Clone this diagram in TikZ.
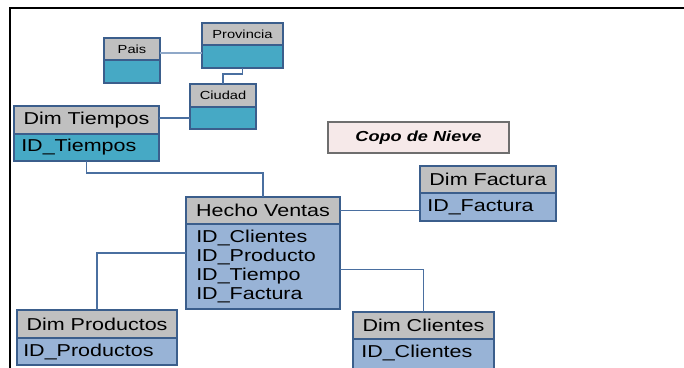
\documentclass[tikz,border=0pt]{standalone}
\usepackage{fontspec}
\setmainfont{Liberation Sans}[FakeStretch=1.25]
\usetikzlibrary{fit}
\definecolor{hdrgray}{HTML}{C0C0C0}
\definecolor{tealbody}{HTML}{46A9C5}
\definecolor{bluebody}{HTML}{98B3D6}
\definecolor{edgecol}{HTML}{3B5E8C}
\definecolor{conncol}{HTML}{4A6FA0}
\definecolor{connlight}{HTML}{8FA8C8}
\definecolor{pinkbg}{HTML}{F6E9E9}
\definecolor{pinkedge}{HTML}{6E6E6E}
\begin{document}
\begin{tikzpicture}[x=0.75pt,y=-0.75pt,
  cell/.style={draw=edgecol,line width=1pt,inner sep=0pt,outer sep=0pt},
  hd/.style={cell,fill=hdrgray},
  bt/.style={cell,fill=tealbody},
  bb/.style={cell,fill=bluebody},
  bigtxt/.style={inner sep=0pt,font=\fontsize{12.9}{15}\selectfont},
  smalltxt/.style={inner sep=0pt,font=\fontsize{8.8}{10}\selectfont},
  txt/.style={anchor=west,inner sep=0pt,font=\fontsize{12.9}{14.2}\selectfont,align=left},
  link/.style={draw=conncol,line width=0.9pt},
  linklight/.style={draw=connlight,line width=1pt},
  frame/.style={draw=black,line width=1.6pt}]
\useasboundingbox (0,0) rectangle (684,367);

% frame (top and left edges)
\coordinate (fTR) at (690,8);
\coordinate (fTL) at (10,8);
\coordinate (fBL) at (10,372);
\draw[frame] (fTR) -- (fTL) -- (fBL);

% Pais
\node[hd, fit={(104,38) (160,60)}] (paisH) {};
\node[bt, fit={(104,60) (160,83)}] (paisB) {};
\node[smalltxt] (paisT) at (paisH.center) {Pais};
% Provincia
\node[hd, fit={(202,23) (283,45)}] (provH) {};
\node[bt, fit={(202,45) (283,68)}] (provB) {};
\node[smalltxt] (provT) at (provH.center) {Provincia};
% Ciudad
\node[hd, fit={(190,84) (256,107)}] (ciuH) {};
\node[bt, fit={(190,107) (256,129)}] (ciuB) {};
\node[smalltxt] (ciuT) at (ciuH.center) {Ciudad};
% Dim Tiempos
\node[hd, fit={(14,106) (159,134)}] (tiemH) {};
\node[bt, fit={(14,134) (159,161)}] (tiemB) {};
\node[bigtxt] (tiemL) at (tiemH.center) {Dim Tiempos};
\node[txt] (tiemT) at ([xshift=5.25pt]tiemB.west) {ID\_Tiempos};
% Copo de Nieve
\node[draw=pinkedge,fill=pinkbg,line width=1pt,inner sep=0pt,
      fit={(328,122) (509,153)}] (copo) {};
\node[inner sep=0pt,font=\fontsize{10.9}{13}\selectfont\bfseries\itshape] (copoT) at (copo.center) {Copo de Nieve};
% Dim Factura
\node[hd, fit={(420,166) (556,193)}] (factH) {};
\node[bb, fit={(420,193) (556,221)}] (factB) {};
\node[bigtxt] (factL) at (factH.center) {Dim Factura};
\node[txt] (factT) at ([xshift=5.25pt]factB.west) {ID\_Factura};
% Hecho Ventas
\node[hd, fit={(186,197) (340,224)}] (hechoH) {};
\node[bb, fit={(186,224) (340,309)}] (hechoB) {};
\node[bigtxt] (hechoL) at (hechoH.center) {Hecho Ventas};
\node[txt] (hechoT) at ([xshift=7.5pt]hechoB.west) {ID\_Clientes\\ID\_Producto\\ID\_Tiempo\\ID\_Factura};
% Dim Productos
\node[hd, fit={(17,310) (177,338)}] (prodH) {};
\node[bb, fit={(17,338) (177,365)}] (prodB) {};
\node[bigtxt] (prodL) at (prodH.center) {Dim Productos};
\node[txt] (prodT) at ([xshift=4.5pt]prodB.west) {ID\_Productos};
% Dim Clientes
\node[hd, fit={(353,312) (494,339)}] (cliH) {};
\node[bb, fit={(353,339) (494,372)}] (cliB) {};
\node[bigtxt] (cliL) at (cliH.center) {Dim Clientes};
\node[txt] (cliT) at ([xshift=6pt]cliB.west |- 0,353) {ID\_Clientes};

% connectors
\draw[linklight] ([yshift=5.25pt]paisH.south east) coordinate (pp) -- (pp -| provB.west);
\draw[link] (provB.south) -- ++(0,6) -| (ciuH.north);
\draw[link] (ciuB.west) -- (ciuB.west -| tiemH.east);
\draw[link] (tiemB.south) -- ++(0,12) -| (hechoH.north);
\draw[link] (hechoH.east) -- (hechoH.east -| factB.west);
\draw[link] ([yshift=10.1pt]hechoB.west) -| (prodH.north);
\draw[link] ([yshift=-2pt]hechoB.east) -| (cliH.north);
\end{tikzpicture}
\end{document}
